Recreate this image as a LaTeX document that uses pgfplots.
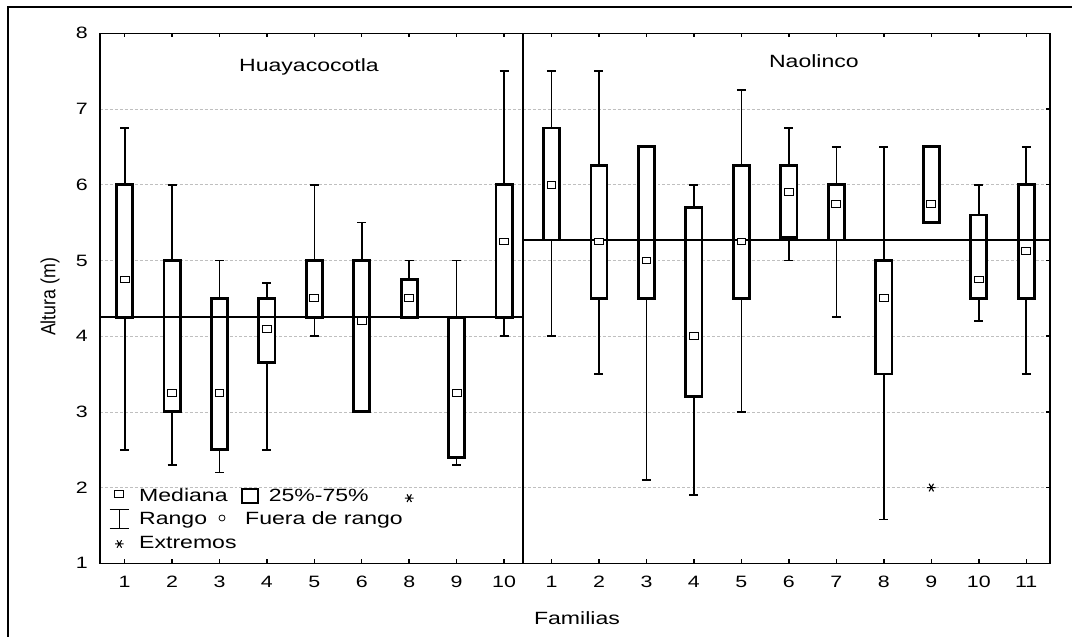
\documentclass[border=0pt]{standalone}
\usepackage{fontspec}
\setmainfont{Liberation Sans}[FakeStretch=1.3]
\newfontfamily\ylabfont{Liberation Sans}[FakeStretch=0.87]
\usepackage{pgfplots}
\usepgfplotslibrary{statistics}
\pgfplotsset{compat=1.18}

\pgfplotsset{
  panel/.style={
    scale only axis, height=530bp,
    ymin=1, ymax=8, ytick={1,...,8},
    axis line style={line width=1.5bp},
    ymajorgrids, grid style={densely dashed, black!25, line width=0.7bp},
    xtick align=inside, xtick pos=both,
    major tick length=4bp, tick style={line width=1.4bp, black},
    tick label style={font=\fontsize{16.5}{18}\selectfont},
    /pgf/number format/assume math mode=true,
    xticklabel style={inner sep=0pt, yshift=-13bp},
    boxplot/draw direction=y,
    boxplot/box extend=0.34,
    boxplot/whisker extend=0.19,
    boxplot/every box/.style={fill=white, line width=2.8bp},
    boxplot/every whisker/.style={line width=1.7bp},
    boxplot/draw/median/.code={},
  },
  bx/.style={black, solid, mark=none},
  med/.style={only marks, mark=square*, mark size=3.4bp,
    mark options={xscale=1.3, fill=white, draw=black, line width=0.9bp}},
  ext/.style={only marks, mark=asterisk, mark size=4.4bp,
    mark options={rotate=90, line width=1.1bp, black}},
  ref/.style={black, line width=1.6bp, mark=none},
}

\begin{document}
\begin{tikzpicture}[x=1bp, y=1bp]
\path[use as bounding box] (0,0) rectangle (1072,637);

% Huayacocotla
\begin{axis}[panel, at={(100bp,73.7bp)}, anchor=south west, width=423bp,
  xmin=0.48, xmax=9.4, xtick={1,...,9},
  xticklabels={1,2,3,4,5,6,8,9,10},
  ytick pos=left, ytick style={draw=none},
  yticklabel style={inner sep=0pt, xshift=-12bp}]
% lower whisker, lower quartile, median, upper quartile, upper whisker
\addplot[bx, boxplot prepared={draw position=1, lower whisker=2.5, lower quartile=4.25, median=4.75, upper quartile=6.0, upper whisker=6.75}] coordinates {};
\addplot[bx, boxplot prepared={draw position=2, lower whisker=2.3, lower quartile=3.0, median=3.25, upper quartile=5.0, upper whisker=6.0}] coordinates {};
\addplot[bx, boxplot prepared={draw position=3, lower whisker=2.2, lower quartile=2.5, median=3.25, upper quartile=4.5, upper whisker=5.0}] coordinates {};
\addplot[bx, boxplot prepared={draw position=4, lower whisker=2.5, lower quartile=3.65, median=4.1, upper quartile=4.5, upper whisker=4.7}] coordinates {};
\addplot[bx, boxplot prepared={draw position=5, lower whisker=4.0, lower quartile=4.25, median=4.5, upper quartile=5.0, upper whisker=6.0}] coordinates {};
\addplot[bx, boxplot prepared={draw position=6, lower whisker=3.0, lower quartile=3.0, median=4.2, upper quartile=5.0, upper whisker=5.5}] coordinates {};
\addplot[bx, boxplot prepared={draw position=7, lower whisker=4.25, lower quartile=4.25, median=4.5, upper quartile=4.75, upper whisker=5.0}] coordinates {};
\addplot[bx, boxplot prepared={draw position=8, lower whisker=2.3, lower quartile=2.4, median=3.25, upper quartile=4.25, upper whisker=5.0}] coordinates {};
\addplot[bx, boxplot prepared={draw position=9, lower whisker=4.0, lower quartile=4.25, median=5.25, upper quartile=6.0, upper whisker=7.5}] coordinates {};
\addplot[ref] coordinates {(0.48,4.25) (9.4,4.25)};
\addplot[med] coordinates {(1,4.75) (2,3.25) (3,3.25) (4,4.1) (5,4.5) (6,4.2) (7,4.5) (8,3.25) (9,5.25)};
\addplot[ext] coordinates {(7,1.86)};
\node[font=\fontsize{17.8}{20}\selectfont] at (axis description cs:0.494,0.936) {Huayacocotla};
\end{axis}

% Naolinco
\begin{axis}[panel, at={(523bp,73.7bp)}, anchor=south west, width=527bp,
  xmin=0.4, xmax=11.5, xtick={1,...,11},
  ytick pos=right, ytick align=inside, yticklabels={}]
\addplot[bx, boxplot prepared={draw position=1, lower whisker=4.0, lower quartile=5.27, median=6.0, upper quartile=6.75, upper whisker=7.5}] coordinates {};
\addplot[bx, boxplot prepared={draw position=2, lower whisker=3.5, lower quartile=4.5, median=5.25, upper quartile=6.25, upper whisker=7.5}] coordinates {};
\addplot[bx, boxplot prepared={draw position=3, lower whisker=2.1, lower quartile=4.5, median=5.0, upper quartile=6.5, upper whisker=6.5}] coordinates {};
\addplot[bx, boxplot prepared={draw position=4, lower whisker=1.9, lower quartile=3.2, median=4.0, upper quartile=5.7, upper whisker=6.0}] coordinates {};
\addplot[bx, boxplot prepared={draw position=5, lower whisker=3.0, lower quartile=4.5, median=5.25, upper quartile=6.25, upper whisker=7.25}] coordinates {};
\addplot[bx, boxplot prepared={draw position=6, lower whisker=5.0, lower quartile=5.3, median=5.9, upper quartile=6.25, upper whisker=6.75}] coordinates {};
\addplot[bx, boxplot prepared={draw position=7, lower whisker=4.25, lower quartile=5.27, median=5.75, upper quartile=6.0, upper whisker=6.5}] coordinates {};
\addplot[bx, boxplot prepared={draw position=8, lower whisker=1.58, lower quartile=3.5, median=4.5, upper quartile=5.0, upper whisker=6.5}] coordinates {};
\addplot[bx, boxplot prepared={draw position=9, lower whisker=5.5, lower quartile=5.5, median=5.75, upper quartile=6.5, upper whisker=6.5}] coordinates {};
\addplot[bx, boxplot prepared={draw position=10, lower whisker=4.2, lower quartile=4.5, median=4.75, upper quartile=5.6, upper whisker=6.0}] coordinates {};
\addplot[bx, boxplot prepared={draw position=11, lower whisker=3.5, lower quartile=4.5, median=5.12, upper quartile=6.0, upper whisker=6.5}] coordinates {};
\addplot[ref] coordinates {(0.4,5.27) (11.5,5.27)};
\addplot[med] coordinates {(1,6.0) (2,5.25) (3,5.0) (4,4.0) (5,5.25) (6,5.9) (7,5.75) (8,4.5) (9,5.75) (10,4.75) (11,5.12)};
\addplot[ext] coordinates {(9,2.0)};
\node[font=\fontsize{17.8}{20}\selectfont] at (axis description cs:0.552,0.948) {Naolinco};
\end{axis}

% labels
\node[font=\fontsize{17.8}{20}\selectfont, anchor=base] at (577,12) {Familias};
\node[font=\ylabfont\fontsize{20.5}{22}\selectfont, rotate=90] at (50,340) {Altura (m)};

% legend
\begin{scope}[font=\fontsize{17.8}{20}\selectfont, every node/.style={anchor=base west, inner sep=0pt}]
\draw[line width=0.9] (114.5,139.5) rectangle (123.5,146.5);
\node at (139,135) {Mediana};
\draw[line width=2.8] (242,134) rectangle (258,148);
\node at (268.6,135) {25\%-75\%};
\draw[line width=1.6] (119.3,108.5) -- (119.3,127.5) (109.5,108.5) -- (129,108.5) (109.5,127.5) -- (129,127.5);
\node at (139,112) {Rango};
\draw[line width=0.8] (222,119) circle (3);
\node at (245,112) {Fuera de rango};
\draw[line width=1.0] (115,93) -- (123.6,93) (117,89.3) -- (121.6,96.7) (117,96.7) -- (121.6,89.3);
\node at (139,88) {Extremos};
\end{scope}

% outer frame
\draw[line width=2.8] (8,0) -- (8,630) -- (1072,630);
\end{tikzpicture}
\end{document}
